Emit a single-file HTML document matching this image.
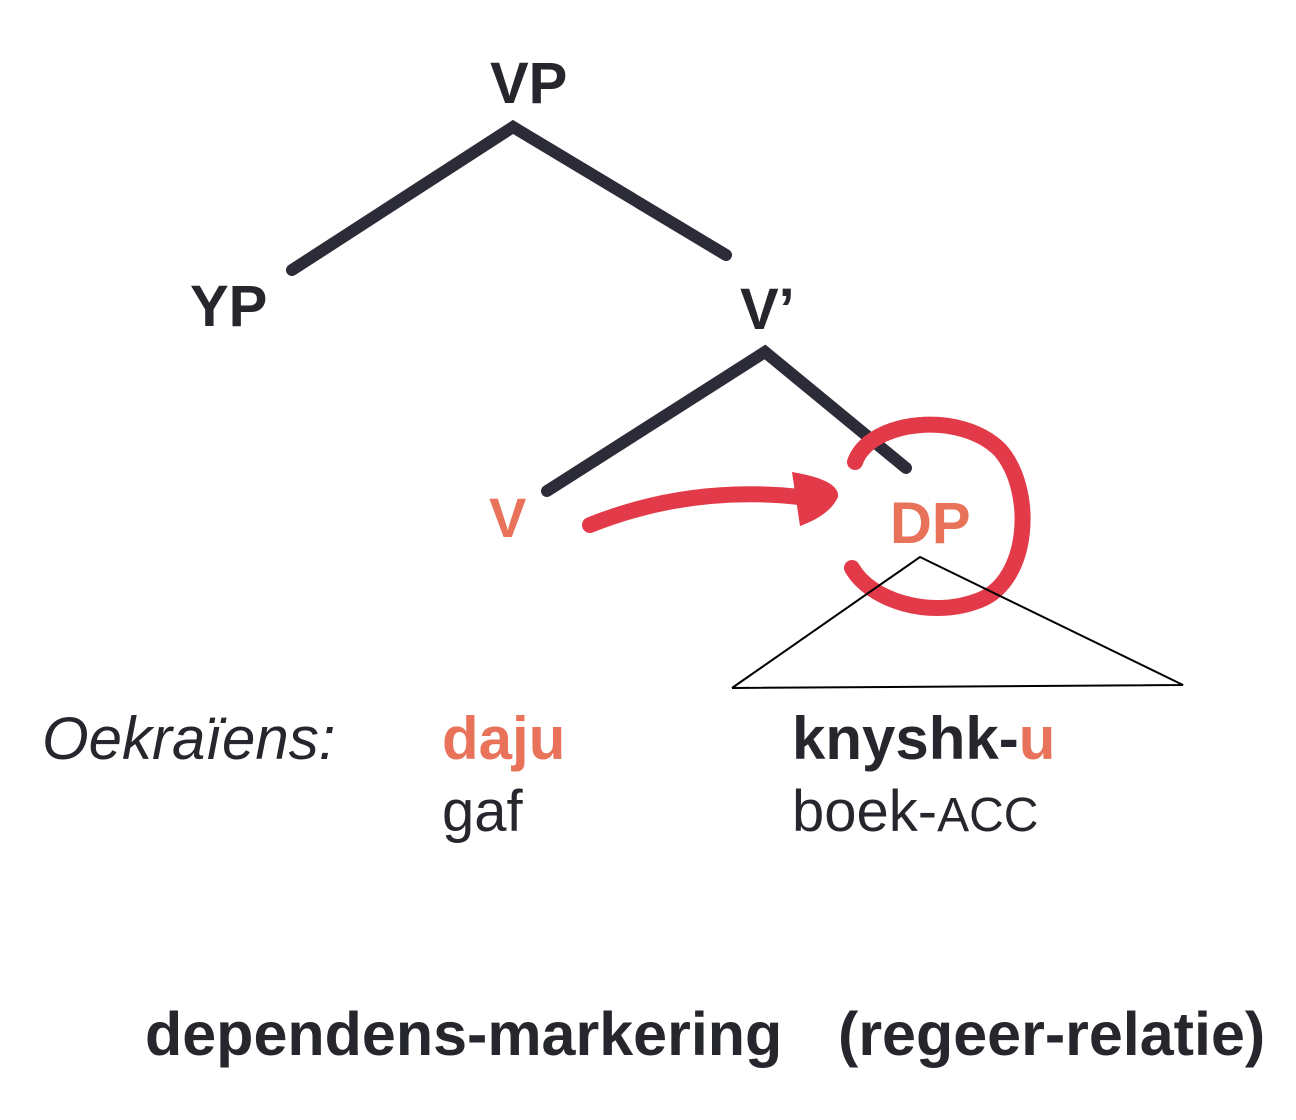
<!DOCTYPE html>
<html><head><style>
body{margin:0;width:1296px;height:1120px;background:#fff;position:relative;overflow:hidden;font-family:"Liberation Sans",sans-serif;}
.t{position:absolute;white-space:nowrap;line-height:1;}
.b{font-weight:bold;color:#26272d;}
.r{color:#e8735a;}
</style></head><body>
<svg width="1296" height="1120" style="position:absolute;left:0;top:0">
<g stroke="#2c2c38" stroke-width="12" fill="none" stroke-linecap="round" stroke-linejoin="miter">
<polyline points="292,270 513,127 726,255"/>
<polyline points="547,491 765,352 906,468"/>
</g>
<g stroke="#e23a48" stroke-width="16" fill="none" stroke-linecap="round">
<path d="M590,525 Q690,485 800,497"/>
<path d="M855,462 C870,420 960,410 1000,450 C1035,490 1030,580 980,600 C930,620 870,600 852,568"/>
</g>
<path d="M792,472 Q840,480 838,497 Q830,515 800,526 Z" fill="#e23a48"/>
<polyline points="732,688 920,557 1183,685 732,688" stroke="#000" stroke-width="2" fill="none"/>
</svg>
<div class="t b" style="left:490px;top:55px;font-size:58px">VP</div>
<div class="t b" style="left:190px;top:278px;font-size:58px">YP</div>
<div class="t b" style="left:740px;top:281px;font-size:58px">V’</div>
<div class="t b r" style="left:489px;top:490px;font-size:56px">V</div>
<div class="t b r" style="left:890px;top:495px;font-size:58px">DP</div>
<div class="t" style="left:42px;top:709px;font-size:60px;font-style:italic;color:#26272d">Oekraïens:</div>
<div class="t b r" style="left:442px;top:709px;font-size:60px">daju</div>
<div class="t b" style="left:792px;top:709px;font-size:60px">knyshk-<span class="r">u</span></div>
<div class="t" style="left:442px;top:783px;font-size:58px;color:#26272d">gaf</div>
<div class="t" style="left:792px;top:783px;font-size:58px;color:#26272d">boek-<span style="font-size:48px">ACC</span></div>
<div class="t b" style="left:145px;top:1004px;font-size:61px">dependens-markering</div>
<div class="t b" style="left:838px;top:1004px;font-size:61px">(regeer-relatie)</div>
</body></html>
